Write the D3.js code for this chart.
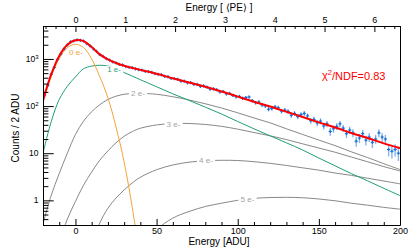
<!DOCTYPE html>
<html>
<head>
<meta charset="utf-8">
<script src="https://cdn.jsdelivr.net/npm/d3@7"></script>
<style>
  body { margin: 0; background: #fff; }
  text { font-family: "Liberation Sans", Arial, Helvetica, sans-serif; }
</style>
</head>
<body>
<svg id="chart"></svg>
<script>
const W = 411
const H = 249
const PLOT = {left: 43, right: 400, top: 26, bottom: 225}
const ADU_PER_PE = 30.7

// fit curves, sampled on this ADU grid (counts / 2 ADU)
const gridADU = [-20, -15, -10, -5, 0, 5, 10, 15, 20, 25, 30, 35, 40, 50, 60, 70, 80, 90,
  100, 110, 120, 130, 140, 150, 160, 170, 180, 190, 200]
const fitTotal = [132, 464, 1160, 2000, 2485, 2390, 1790, 1250, 980, 820, 715, 645, 586, 484,
  389, 316, 257, 204, 159, 124, 98, 76, 58.5, 45.2, 35.2, 26.9, 21, 16.2, 12.8]
const fit0e = [120, 417, 1023, 1738, 2042, 1738, 1000, 420, 150, 36, 6.5, 0.71, 0.05,
  null, null, null, null, null, null, null, null, null, null, null, null, null, null, null, null]
const fit1e = [10, 46, 138, 263, 417, 620, 705, 735, 705, 620, 515, 432, 363, 257, 182, 132,
  95, 68, 47, 33, 23.4, 16.6, 11.7, 7.9, 5.4, 3.7, 2.6, 1.8, 1.26]
const fit2e = [0.32, 1.26, 3.7, 10, 25, 48, 76, 107, 138, 162, 178, 184, 186, 178, 158, 135,
  112, 91, 72, 56, 44, 33, 25, 19, 14.5, 10.7, 8.1, 6.0, 4.5]
const fit3e = [0.01, 0.04, 0.13, 0.40, 0.95, 2.1, 4.0, 7.1, 11.2, 16.6, 22.9, 28.8, 33.9, 39.8,
  42.7, 42.7, 40.7, 37.2, 32.4, 27.5, 23.4, 19.5, 15.8, 12.9, 10.5, 8.3, 6.6, 5.2, 4.2]
const fit4e = [null, null, null, null, null, 0.032, 0.11, 0.33, 0.68, 1.12, 1.66, 2.34, 3.09,
  4.47, 5.62, 6.46, 6.92, 7.08, 7.0, 6.61, 6.1, 5.5, 4.9, 4.37, 3.8, 3.39, 2.95, 2.57, 2.24]
const fit5e = [null, null, null, null, null, null, null, null, null, null, null, null, 0.10,
  0.24, 0.42, 0.58, 0.74, 0.87, 1.0, 1.10, 1.15, 1.16, 1.135, 1.07, 0.98, 0.87, 0.79, 0.71, 0.65]

// measured histogram, 2 ADU bins centred at -19, -17, ... 199
const binCenters = d3.range(-19, 200, 2)
const dataCounts = [
  172, 276, 470, 662, 975, 1280, 1630, 1985, 2310, 2430,
  2530, 2480, 2400, 2100, 1900, 1640, 1450, 1230, 1130, 1010,
  945, 865, 825, 765, 745, 690, 665, 655, 615, 590,
  580, 545, 540, 520, 485, 470, 462, 425, 420, 385,
  380, 370, 340, 338, 312, 316, 290, 288, 262, 268,
  252, 230, 232, 222, 200, 204, 182, 186, 168, 158,
  160, 146, 152, 156, 130, 118, 122, 106, 101, 86,
  89, 96, 92, 78, 82, 77, 64, 70, 60, 66,
  70, 62, 49, 52, 44, 48, 38, 42, 29, 33,
  37, 42, 34, 26, 31, 27, 18, 21, 26, 19,
  22, 17, 20, 27, 22, 20, 12, 11, 12, 10]

// component labels: text, ADU position, counts position
const labelText = ["0 e-", "1 e-", "2 e-", "3 e-", "4 e-", "5 e-"]
const labelADU = [0.3, 23.8, 38.5, 60.4, 80.4, 106]
const labelCounts = [1370, 600, 185, 41.7, 7.0, 1.04]

const xMajor = [0, 50, 100, 150, 200]
const peMajor = [0, 1, 2, 3, 4, 5, 6]
const yMajor = [1, 10, 100, 1000]
const yMajorText = ["1", "10", "10^2", "10^3"]
const chi2Text = "0.83"

const COLORS = {
  total: "#ff0000",
  e0: "#f7a33a",
  e1: "#1f9e7a",
  gray: "#7a7a7a",
  grayText: "#a3a3a3",
  marker: "#1c6fd6",
  errBar: "#86b6ec",
}

const svg = d3.select("#chart").attr("width", W).attr("height", H)
svg.append("rect").attr("width", W).attr("height", H).attr("fill", "#fff")

const x = d3.scaleLinear().domain([-20, 200]).range([PLOT.left, PLOT.right])
const xPE = d3
  .scaleLinear()
  .domain([-20 / ADU_PER_PE, 200 / ADU_PER_PE])
  .range([PLOT.left, PLOT.right])
const y = d3.scaleLog().domain([0.3, 5000]).range([PLOT.bottom, PLOT.top])

svg
  .append("clipPath")
  .attr("id", "clip")
  .append("rect")
  .attr("x", PLOT.left)
  .attr("y", PLOT.top)
  .attr("width", PLOT.right - PLOT.left)
  .attr("height", PLOT.bottom - PLOT.top)

// fit components
const line = d3
  .line()
  .defined((d) => d.v != null)
  .x((d) => x(d.x))
  .y((d) => y(d.v))
  .curve(d3.curveCatmullRom.alpha(0.5))

const series = (vals) => gridADU.map((g, i) => ({x: g, v: vals[i]}))

const curves = svg.append("g").attr("clip-path", "url(#clip)").attr("fill", "none")
;[fit5e, fit4e, fit3e, fit2e].forEach((vals) => {
  curves
    .append("path")
    .attr("d", line(series(vals)))
    .attr("stroke", COLORS.gray)
    .attr("stroke-width", 0.9)
})
curves
  .append("path")
  .attr("d", line(series(fit1e)))
  .attr("stroke", COLORS.e1)
  .attr("stroke-width", 1)
curves
  .append("path")
  .attr("d", line(series(fit0e)))
  .attr("stroke", COLORS.e0)
  .attr("stroke-width", 1)

// component labels
const labelColors = [COLORS.e0, COLORS.e1, COLORS.grayText, COLORS.grayText, COLORS.grayText, COLORS.grayText]
const labels = svg.append("g").attr("font-size", 8)
labelText.forEach((t, i) => {
  const g = labels.append("g")
  const txt = g
    .append("text")
    .attr("x", x(labelADU[i]))
    .attr("y", y(labelCounts[i]))
    .attr("dy", "0.35em")
    .attr("text-anchor", "middle")
    .attr("fill", labelColors[i])
    .text(t)
  if (i > 0) {
    const b = txt.node().getBBox()
    g.insert("rect", "text")
      .attr("x", b.x - 2)
      .attr("y", b.y + 1)
      .attr("width", b.width + 4)
      .attr("height", b.height - 2)
      .attr("fill", "#fff")
  }
})

// data points with errors
const points = binCenters.map((c, i) => ({c, n: dataCounts[i]}))
const pts = svg.append("g").attr("clip-path", "url(#clip)")
pts
  .selectAll(".err")
  .data(points)
  .enter()
  .append("line")
  .attr("x1", (d) => x(d.c))
  .attr("x2", (d) => x(d.c))
  .attr("y1", (d) => y(d.n + Math.sqrt(d.n)))
  .attr("y2", (d) => y(Math.max(d.n - Math.sqrt(d.n), 0.3)))
  .attr("stroke", COLORS.errBar)
  .attr("stroke-width", 1.4)
pts
  .selectAll(".hbar")
  .data(points)
  .enter()
  .append("line")
  .attr("x1", (d) => x(d.c - 1))
  .attr("x2", (d) => x(d.c + 1))
  .attr("y1", (d) => y(d.n))
  .attr("y2", (d) => y(d.n))
  .attr("stroke", COLORS.marker)
  .attr("stroke-width", 1.1)
pts
  .selectAll(".vbar")
  .data(points)
  .enter()
  .append("line")
  .attr("x1", (d) => x(d.c))
  .attr("x2", (d) => x(d.c))
  .attr("y1", (d) => y(d.n) - 1.6)
  .attr("y2", (d) => y(d.n) + 1.6)
  .attr("stroke", COLORS.marker)
  .attr("stroke-width", 1.1)

// total fit
svg
  .append("g")
  .attr("clip-path", "url(#clip)")
  .append("path")
  .attr("d", line(series(fitTotal)))
  .attr("fill", "none")
  .attr("stroke", COLORS.total)
  .attr("stroke-width", 2)

// axes (ROOT style, ticks inside)
const xMinor = d3.range(-20, 201, 10).filter((v) => !xMajor.includes(v))
svg
  .append("g")
  .attr("transform", `translate(0,${PLOT.bottom})`)
  .call(d3.axisBottom(x).tickValues(xMinor).tickSizeInner(-3).tickSizeOuter(0).tickFormat(""))
svg
  .append("g")
  .attr("transform", `translate(0,${PLOT.bottom})`)
  .call(d3.axisBottom(x).tickValues(xMajor).tickSizeInner(-6).tickSizeOuter(0).tickPadding(3))

const peMinor = d3.range(-3, 33).map((i) => i / 5).filter((v) => !Number.isInteger(v))
svg
  .append("g")
  .attr("transform", `translate(0,${PLOT.top})`)
  .call(d3.axisTop(xPE).tickValues(peMinor).tickSizeInner(-3).tickSizeOuter(0).tickFormat(""))
svg
  .append("g")
  .attr("transform", `translate(0,${PLOT.top})`)
  .call(
    d3.axisTop(xPE).tickValues(peMajor).tickSizeInner(-6).tickSizeOuter(0).tickPadding(3.5).tickFormat(d3.format("d"))
  )

const yMinor = []
;[0.1, 1, 10, 100, 1000].forEach((dec) => {
  for (let k = 2; k <= 9; k++) {
    const v = k * dec
    if (v >= 0.3 && v <= 5000) yMinor.push(v)
  }
})
svg
  .append("g")
  .attr("transform", `translate(${PLOT.left},0)`)
  .call(d3.axisLeft(y).tickValues(yMinor).tickSizeInner(-5.4).tickSizeOuter(0).tickFormat(""))
svg
  .append("g")
  .attr("transform", `translate(${PLOT.left},0)`)
  .call(d3.axisLeft(y).tickValues(yMajor).tickSizeInner(-10.7).tickSizeOuter(0).tickFormat(""))

svg.selectAll(".tick text").attr("font-size", 9).attr("fill", "#000")
svg.selectAll(".domain, .tick line").attr("stroke", "#000")

svg
  .append("line")
  .attr("x1", PLOT.right + 0.5)
  .attr("x2", PLOT.right + 0.5)
  .attr("y1", PLOT.top)
  .attr("y2", PLOT.bottom)
  .attr("stroke", "#000")

// y tick labels with exponents
const yl = svg.append("g").attr("font-size", 8.5).attr("text-anchor", "end")
yMajor.forEach((v, i) => {
  const [base, exp] = yMajorText[i].split("^")
  const t = yl.append("text").attr("x", 38.5).attr("y", y(v)).attr("dy", "0.35em")
  t.append("tspan").text(base)
  if (exp) t.append("tspan").attr("dy", "-0.45em").attr("font-size", 6).text(exp)
})

// titles
svg
  .append("text")
  .attr("x", 219)
  .attr("y", 241)
  .attr("dy", "0.35em")
  .attr("text-anchor", "middle")
  .attr("font-size", 10)
  .text("Energy [ADU]")
svg
  .append("text")
  .attr("x", 219)
  .attr("y", 7.5)
  .attr("dy", "0.35em")
  .attr("text-anchor", "middle")
  .attr("font-size", 10)
  .text("Energy [ \u27E8PE\u27E9 ]")
svg
  .append("text")
  .attr("transform", "translate(15,128) rotate(-90)")
  .attr("dy", "0.35em")
  .attr("text-anchor", "middle")
  .attr("font-size", 10)
  .text("Counts / 2 ADU")

const chi = svg
  .append("text")
  .attr("x", 322)
  .attr("y", 78.5)
  .attr("font-size", 11)
  .attr("fill", COLORS.total)
chi.append("tspan").text("\u03C7")
chi.append("tspan").attr("dy", "-0.45em").attr("font-size", 7.5).text("2")
chi.append("tspan").attr("dy", "0.45em").text(`/NDF=${chi2Text}`)
</script>
</body>
</html>
